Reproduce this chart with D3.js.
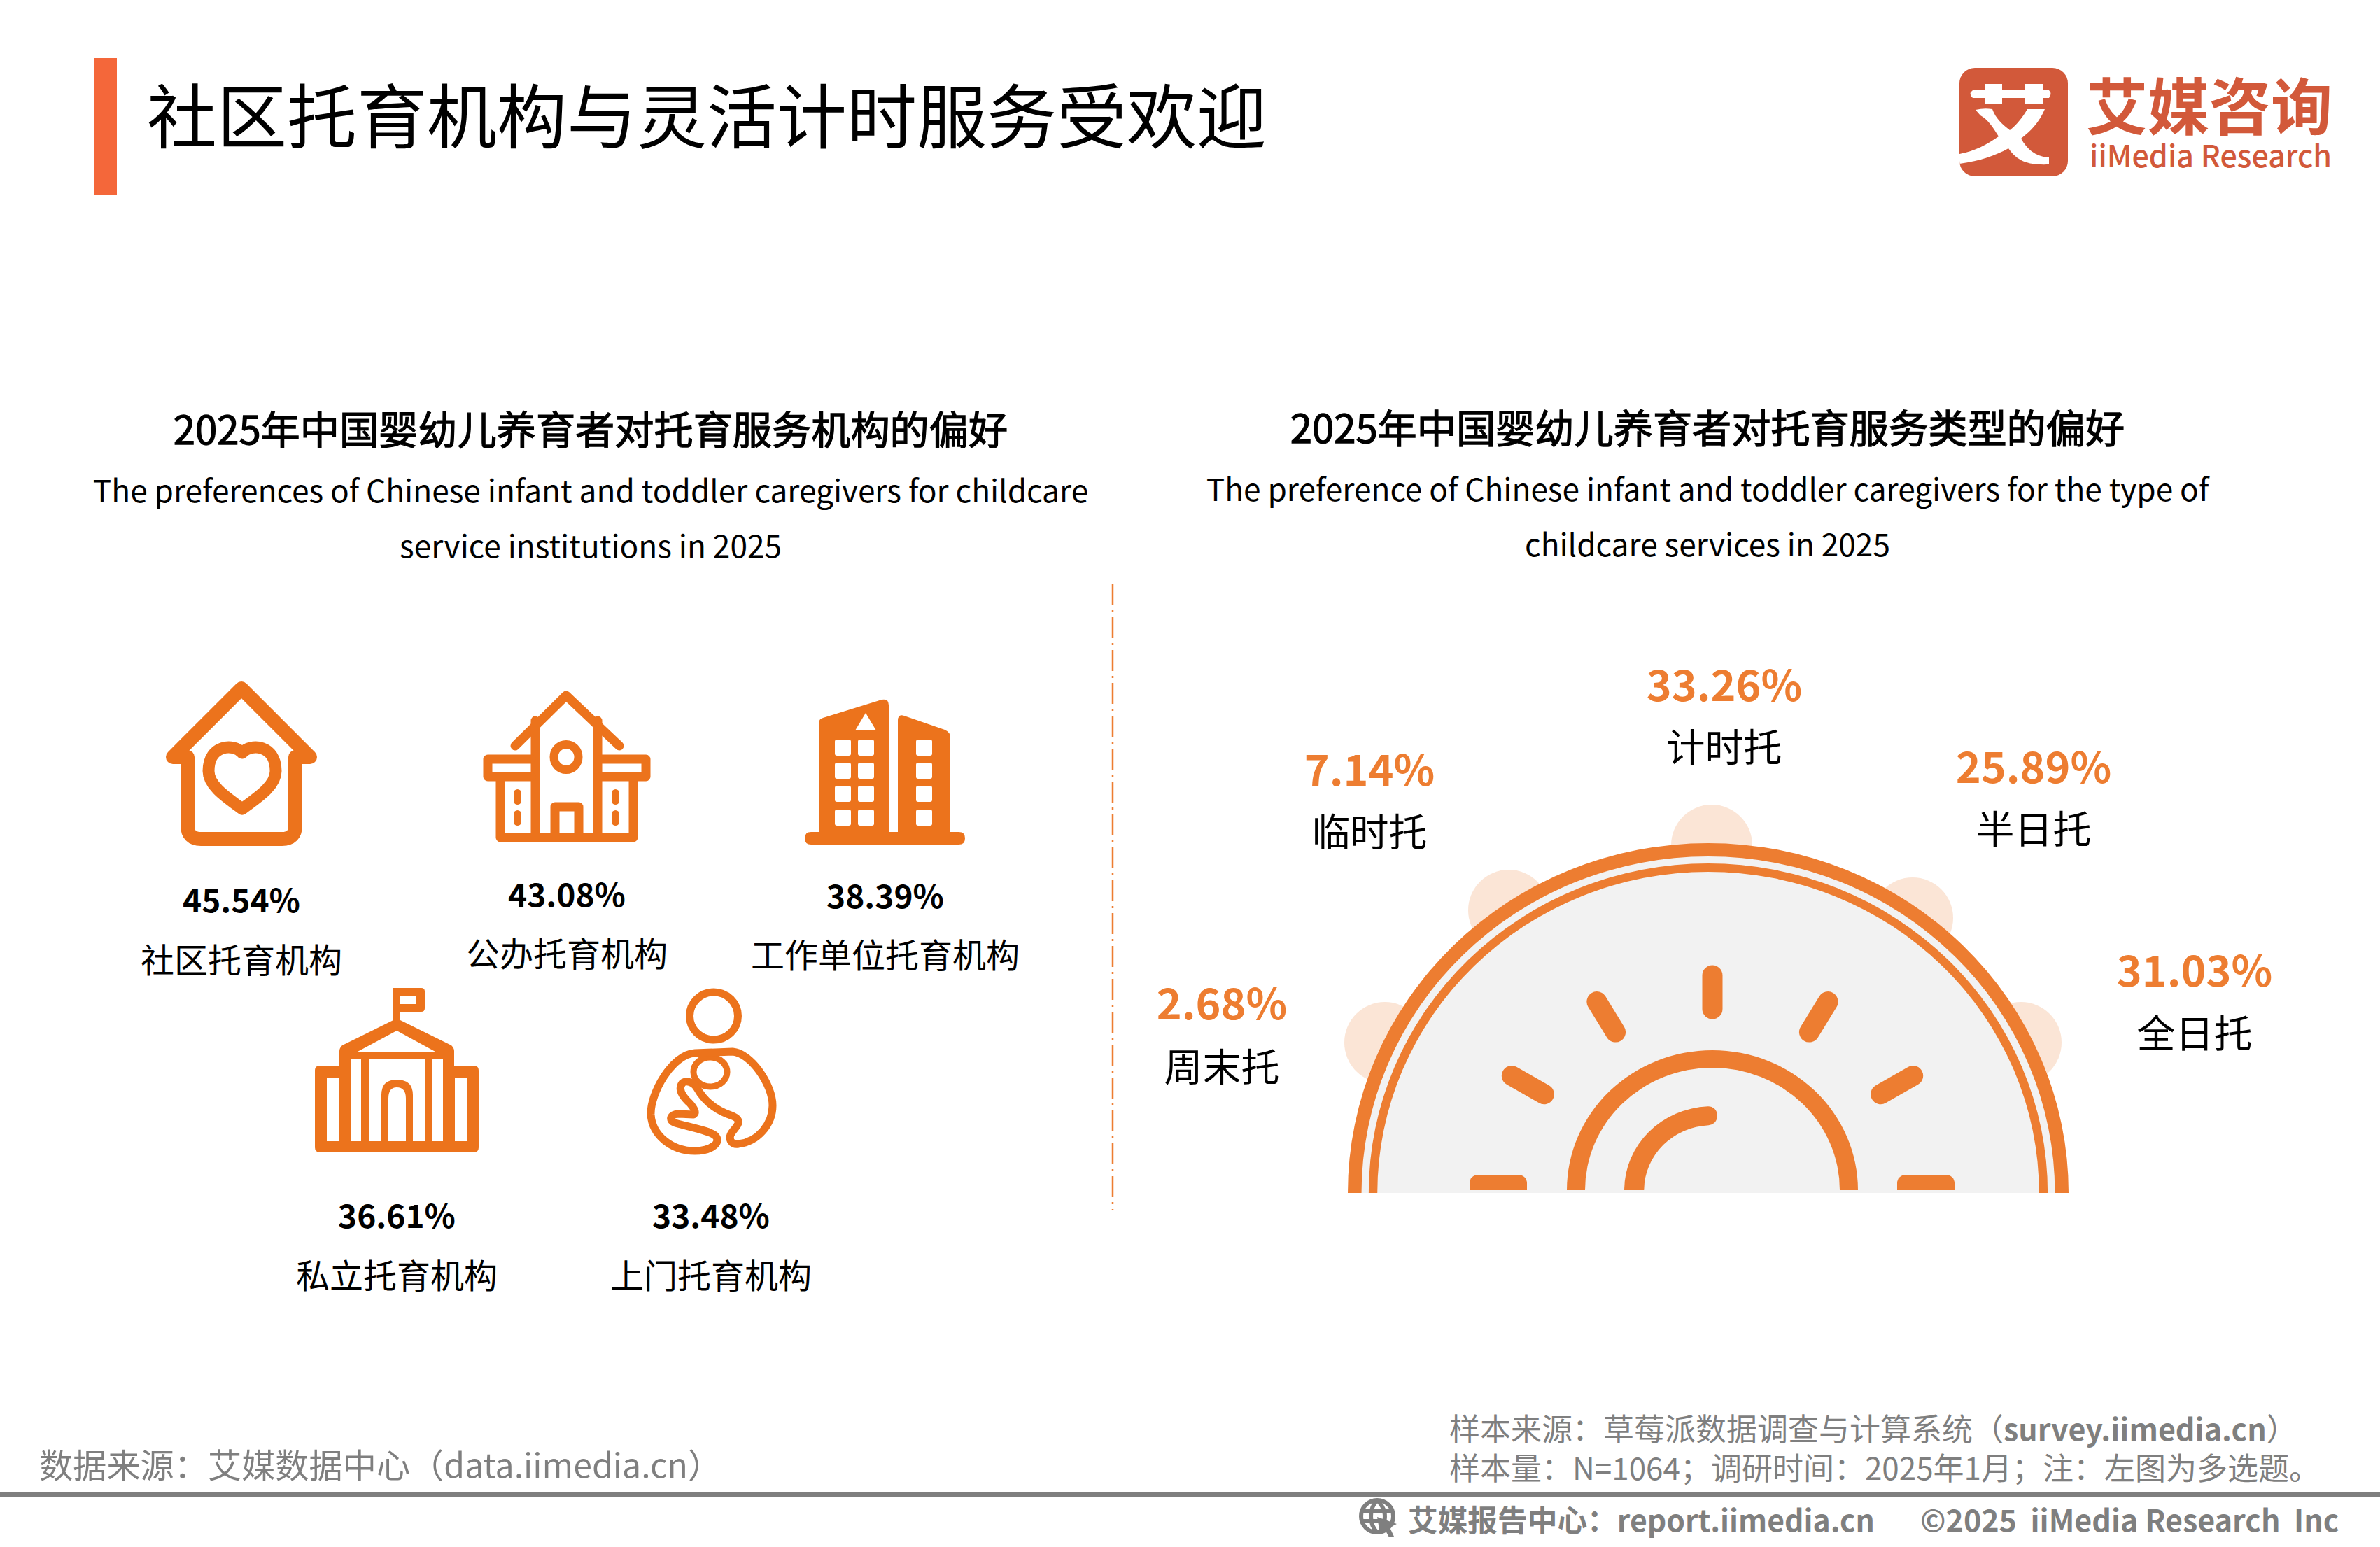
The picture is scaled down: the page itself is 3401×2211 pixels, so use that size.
<!DOCTYPE html>
<html>
<head>
<meta charset="utf-8">
<script src="https://cdn.jsdelivr.net/npm/d3@7"></script>
<style>
  html, body { margin: 0; background: #fff; }
  svg { display: block; }
  text { font-family: "Noto Sans CJK SC", "Noto Sans", sans-serif; }
</style>
</head>
<body>
<div id="chart"></div>
<script>
// left panel data
var institutionLabels = ["社区托育机构", "公办托育机构", "工作单位托育机构", "私立托育机构", "上门托育机构"];
var institutionValues = [45.54, 43.08, 38.39, 36.61, 33.48];

// right panel data
var typeLabels = ["周末托", "临时托", "计时托", "半日托", "全日托"];
var typeValues = [2.68, 7.14, 33.26, 25.89, 31.03];

// where the label pairs sit, in the same order as the data
var institutionAnchors = [[345, 1284, 1369], [810, 1276, 1360], [1265, 1278, 1362], [567, 1735, 1820], [1016, 1735, 1820]];
var typeAnchors = [[1746, 1430, 1521], [1957, 1096, 1185], [2464, 975, 1064], [2906, 1092, 1181], [3136, 1383, 1473]];

var pct = function(d) { return d.toFixed(2) + "%"; };

var svg = d3.select("#chart").append("svg")
    .attr("width", 3401)
    .attr("height", 2211)
    .attr("viewBox", "0 0 3401 2211");

// puts one line of text on the page
function label(x, y, str, size, color, weight, anchor) {
    return svg.append("text")
        .attr("x", x)
        .attr("y", y)
        .attr("dominant-baseline", "central")
        .attr("text-anchor", anchor || "middle")
        .attr("font-size", size)
        .attr("font-weight", weight || 400)
        .attr("fill", color)
        .text(str);
}

// regular weight with a thin outline, the font has no medium cut here
function mediumLabel(x, y, str, size, color, anchor) {
    return label(x, y, str, size, color, 400, anchor)
        .attr("stroke", color)
        .attr("stroke-width", 1.3);
}

// header
svg.append("rect").attr("x", 135).attr("y", 83).attr("width", 32).attr("height", 195).attr("fill", "#F4673A");
label(210, 160, "社区托育机构与灵活计时服务受欢迎", 100, "#000", 400, "start");

// logo
var logo = svg.append("g");
logo.append("clipPath").attr("id", "logoClip")
    .append("rect").attr("x", 2800).attr("y", 97).attr("width", 155).attr("height", 155).attr("rx", 22);
logo.append("rect").attr("x", 2800).attr("y", 97).attr("width", 155).attr("height", 155).attr("rx", 22).attr("fill", "#D2593A");
logo.append("path")
    .attr("clip-path", "url(#logoClip)")
    .attr("fill", "#fff")
    .attr("d", "M2819,129H2836V120H2861V129H2894V120H2919V129H2928Q2933,134 2928,140H2919V148H2894V140H2861V148H2836V140H2819Q2812,134 2819,129Z" +
        "M2897,156H2922C2914,175 2902,187 2888,198C2896,212 2908,224 2928,225V235C2900,236 2884,232 2870,212C2852,222 2830,230 2800,234V220C2822,216 2840,206 2856,195C2848,182 2840,170 2830,165L2823,157Q2835,154 2847,156C2852,170 2862,178 2872,186C2882,178 2890,168 2897,156Z");
label(3157, 146, "艾媒咨询", 88, "#D2593A", 700);
label(3159, 220, "iiMedia Research", 43, "#D2593A", 500);

// panel headings
mediumLabel(844, 610, "2025年中国婴幼儿养育者对托育服务机构的偏好", 56.2, "#000");
label(844, 699, "The preferences of Chinese infant and toddler caregivers for childcare", 44.2, "#000");
label(844, 778, "service institutions in 2025", 44.2, "#000");
mediumLabel(2440, 608, "2025年中国婴幼儿养育者对托育服务类型的偏好", 56.2, "#000");
label(2440, 697, "The preference of Chinese infant and toddler caregivers for the type of", 44.2, "#000");
label(2440, 776, "childcare services in 2025", 44.2, "#000");

// divider between the two panels
svg.append("line")
    .attr("x1", 1590).attr("x2", 1590).attr("y1", 835).attr("y2", 1730)
    .attr("stroke", "#ED7D31").attr("stroke-width", 2.5)
    .attr("stroke-dasharray", "30 7 3 7");

// left panel labels
var institutions = svg.append("g").selectAll("g")
    .data(d3.zip(institutionLabels, institutionValues, institutionAnchors))
    .join("g");
institutions.append("text")
    .attr("x", function(d) { return d[2][0]; })
    .attr("y", function(d) { return d[2][1]; })
    .attr("dominant-baseline", "central").attr("text-anchor", "middle")
    .attr("font-size", 46).attr("font-weight", 700).attr("fill", "#000")
    .text(function(d) { return pct(d[1]); });
institutions.append("text")
    .attr("x", function(d) { return d[2][0]; })
    .attr("y", function(d) { return d[2][2]; })
    .attr("dominant-baseline", "central").attr("text-anchor", "middle")
    .attr("font-size", 48).attr("fill", "#000")
    .text(function(d) { return d[0]; });

// icons, drawn in page coordinates
var iconColor = "#EC731C";
var icons = svg.append("g");

// house with heart
var strokeIcon = function(d, w) {
    return icons.append("path").attr("d", d).attr("fill", "none")
        .attr("stroke", iconColor).attr("stroke-width", w)
        .attr("stroke-linejoin", "round").attr("stroke-linecap", "round");
};
strokeIcon("M268,1082H247L345,984L443,1082H422V1180Q422,1199 403,1199H287Q268,1199 268,1180Z", 20);
strokeIcon("M346,1076C334,1062 298,1064 298,1102C298,1125 329,1143 346,1156C363,1143 394,1125 394,1102C394,1064 358,1062 346,1076Z", 17);

// public school
var school = icons.append("g").attr("transform", "translate(-3,0)");
var schoolLine = function(d, w) {
    return school.append("path").attr("d", d).attr("fill", "none")
        .attr("stroke", iconColor).attr("stroke-width", w)
        .attr("stroke-linejoin", "round").attr("stroke-linecap", "round");
};
schoolLine("M739,1066L812,994L888,1066", 13);
schoolLine("M768,1030V1197M857,1030V1197M718,1112V1197H908V1112M796,1197V1153H830V1197", 13);
schoolLine("M700,1085H762M862,1085H926V1110H862M762,1110H700V1085", 13);
school.append("ellipse").attr("cx", 812).attr("cy", 1082).attr("rx", 17.5).attr("ry", 18)
    .attr("fill", "none").attr("stroke", iconColor).attr("stroke-width", 12);
school.selectAll(".pill")
    .data([[737, 1128], [737, 1158], [877, 1128], [877, 1158]])
    .join("rect").attr("class", "pill")
    .attr("x", function(d) { return d[0]; }).attr("y", function(d) { return d[1]; })
    .attr("width", 11).attr("height", 22).attr("rx", 5.5).attr("fill", iconColor);

// office towers
icons.append("path").attr("fill", iconColor).attr("fill-rule", "evenodd")
    .attr("d", "M1171,1030Q1171,1028 1176,1026L1260,1000Q1270,998 1270,1008V1189H1283V1030Q1283,1020 1292,1023L1350,1043Q1358,1046 1358,1055V1189H1370Q1379,1189 1379,1198Q1379,1207 1370,1207H1159Q1150,1207 1150,1198Q1150,1189 1159,1189H1171Z" +
        "M1237,1019L1222,1044H1252Z");
icons.selectAll(".win")
    .data(d3.cross([1193, 1226, 1309], [1057, 1090, 1123, 1157]))
    .join("rect").attr("class", "win")
    .attr("x", function(d) { return d[0]; }).attr("y", function(d) { return d[1]; })
    .attr("width", 23).attr("height", 23).attr("rx", 3).attr("fill", "#fff");

// private school with flag
icons.append("path").attr("fill", iconColor).attr("fill-rule", "evenodd")
    .attr("transform", "translate(-1,0)")
    .attr("d", "M563,1412H603Q608,1412 608,1417V1441Q608,1446 603,1446H573V1458L646,1494Q650,1498 650,1502V1523H678Q685,1523 685,1530V1640Q685,1647 678,1647H458Q451,1647 451,1640V1530Q451,1523 458,1523H486V1502Q486,1498 490,1494L563,1458Z" +
        "M573,1423H596V1435H573Z M568,1473L512,1503H623Z M468,1540H486V1631H468Z M651,1540H668V1631H651Z" +
        "M502,1514H517V1631H502Z M619,1514H634V1631H619Z M528,1514H608V1631H591V1565Q591,1543 568,1543Q546,1543 546,1565V1631H528Z" +
        "M556,1631V1570Q556,1554 568,1554Q581,1554 581,1570V1631Z");

// parent and baby
var parent = icons.append("g").attr("transform", "translate(-4,0)");
parent.append("ellipse").attr("cx", 1024).attr("cy", 1452).attr("rx", 34.5).attr("ry", 34)
    .attr("fill", "none").attr("stroke", iconColor).attr("stroke-width", 11);
parent.append("ellipse").attr("cx", 1019).attr("cy", 1532).attr("rx", 24).attr("ry", 21)
    .attr("fill", "none").attr("stroke", iconColor).attr("stroke-width", 9);
parent.append("path").attr("fill", "none").attr("stroke", iconColor).attr("stroke-width", 11)
    .attr("stroke-linejoin", "round").attr("stroke-linecap", "round")
    .attr("d", "M997,1505C964,1507 933,1563 934,1593C936,1623 964,1645 997,1645C1020,1645 1036,1633 1026,1623C1020,1617 995,1612 969,1605C959,1602 961,1592 974,1592L995,1593C1000,1590 995,1583 990,1577C979,1567 972,1557 979,1548C985,1543 995,1547 1000,1555C1010,1573 1026,1587 1051,1595C1067,1602 1056,1610 1051,1617C1043,1627 1049,1637 1059,1635C1087,1632 1108,1607 1108,1580C1108,1550 1077,1505 1051,1503Z");

// sun semicircle
var ringCx = 2441, ringCy = 1705;
var sunCx = 2447, sunCy = 1701;
var halfTurn = Math.PI / 2;
var arc = d3.arc().startAngle(-halfTurn).endAngle(halfTurn);

var petals = [[2446, 1208], [2156, 1301], [2733, 1312], [1979, 1490], [2888, 1490]];
svg.append("g").selectAll("circle")
    .data(petals)
    .join("circle")
    .attr("cx", function(d) { return d[0]; })
    .attr("cy", function(d) { return d[1]; })
    .attr("r", 58)
    .attr("fill", "#FBE5D6");

var ring = svg.append("g").attr("transform", "translate(" + ringCx + "," + ringCy + ") scale(1.03,1)");
ring.append("path").attr("d", arc({ innerRadius: 0, outerRadius: 490 })).attr("fill", "#F2F2F2");
ring.append("path").attr("d", arc({ innerRadius: 481, outerRadius: 500 })).attr("fill", "#ED7D31");
ring.append("path").attr("d", arc({ innerRadius: 459, outerRadius: 471 })).attr("fill", "#ED7D31");

svg.append("clipPath").attr("id", "sunClip")
    .append("rect").attr("x", 1900).attr("y", 1100).attr("width", 1100).attr("height", sunCy - 1100);
var sun = svg.append("g").attr("clip-path", "url(#sunClip)")
    .append("g").attr("transform", "translate(" + sunCx + "," + sunCy + ")");
sun.append("path").attr("transform", "scale(1.04,1)")
    .attr("d", arc({ innerRadius: 175, outerRadius: 200 })).attr("fill", "#ED7D31");
sun.append("path").attr("transform", "scale(1.05,1)")
    .attr("d", d3.arc().cornerRadius(12)({ innerRadius: 93, outerRadius: 120, startAngle: -halfTurn - 0.1, endAngle: 0.06 }))
    .attr("fill", "#ED7D31");

// rays: angle in degrees, start and end radius
var rays = [[-60.3, 277, 330], [-31.5, 265, 316], [0, 259, 307], [31.5, 265, 316], [60.3, 277, 330]];
sun.selectAll(".ray")
    .data(rays)
    .join("line").attr("class", "ray")
    .attr("x1", function(d) { return d3.pointRadial(d[0] * Math.PI / 180, d[1])[0]; })
    .attr("y1", function(d) { return d3.pointRadial(d[0] * Math.PI / 180, d[1])[1]; })
    .attr("x2", function(d) { return d3.pointRadial(d[0] * Math.PI / 180, d[2])[0]; })
    .attr("y2", function(d) { return d3.pointRadial(d[0] * Math.PI / 180, d[2])[1]; })
    .attr("stroke", "#ED7D31").attr("stroke-width", 29).attr("stroke-linecap", "round");
sun.selectAll(".foot")
    .data([-347, 264])
    .join("rect").attr("class", "foot")
    .attr("x", function(d) { return d; }).attr("y", -22)
    .attr("width", 82).attr("height", 44).attr("rx", 12).attr("fill", "#ED7D31");

// right panel labels
var types = svg.append("g").selectAll("g")
    .data(d3.zip(typeLabels, typeValues, typeAnchors))
    .join("g");
types.append("text")
    .attr("x", function(d) { return d[2][0]; })
    .attr("y", function(d) { return d[2][1]; })
    .attr("dominant-baseline", "central").attr("text-anchor", "middle")
    .attr("font-size", 61).attr("font-weight", 700).attr("fill", "#ED7D31")
    .text(function(d) { return pct(d[1]); });
types.append("text")
    .attr("x", function(d) { return d[2][0]; })
    .attr("y", function(d) { return d[2][2]; })
    .attr("dominant-baseline", "central").attr("text-anchor", "middle")
    .attr("font-size", 55).attr("fill", "#000")
    .text(function(d) { return d[0]; });

// footer
var grey = "#7F7F7F";
label(56, 2091, "数据来源：艾媒数据中心（data.iimedia.cn）", 48.2, grey, 400, "start");
var sampleLine = label(2071, 2040, "样本来源：草莓派数据调查与计算系统（", 44, grey, 400, "start");
sampleLine.append("tspan").attr("font-weight", 700).attr("font-size", 43).text("survey.iimedia.cn");
sampleLine.append("tspan").text("）");
label(2071, 2096, "样本量：N=1064；调研时间：2025年1月；注：左图为多选题。", 44, grey, 400, "start");
svg.append("rect").attr("x", 0).attr("y", 2133).attr("width", 3401).attr("height", 6).attr("fill", grey);
label(2012, 2170, "艾媒报告中心：report.iimedia.cn", 42.7, grey, 700, "start");
label(2744, 2170, "©2025  iiMedia Research  Inc", 43, grey, 700, "start").style("white-space", "pre");

// small globe next to the report link
var globe = svg.append("g").attr("fill", "none").attr("stroke", grey).attr("stroke-width", 6);
globe.append("circle").attr("cx", 1968).attr("cy", 2167).attr("r", 23);
globe.append("path").attr("d", "M1947,2160H1989M1947,2174H1972M1968,2144C1956,2156 1956,2178 1968,2190M1968,2144C1980,2156 1980,2166 1978,2176");
svg.append("path").attr("fill", grey).attr("d", "M1968,2168L1996,2178L1986,2183L1992,2196L1985,2197L1979,2186L1972,2192Z");
</script>
</body>
</html>
